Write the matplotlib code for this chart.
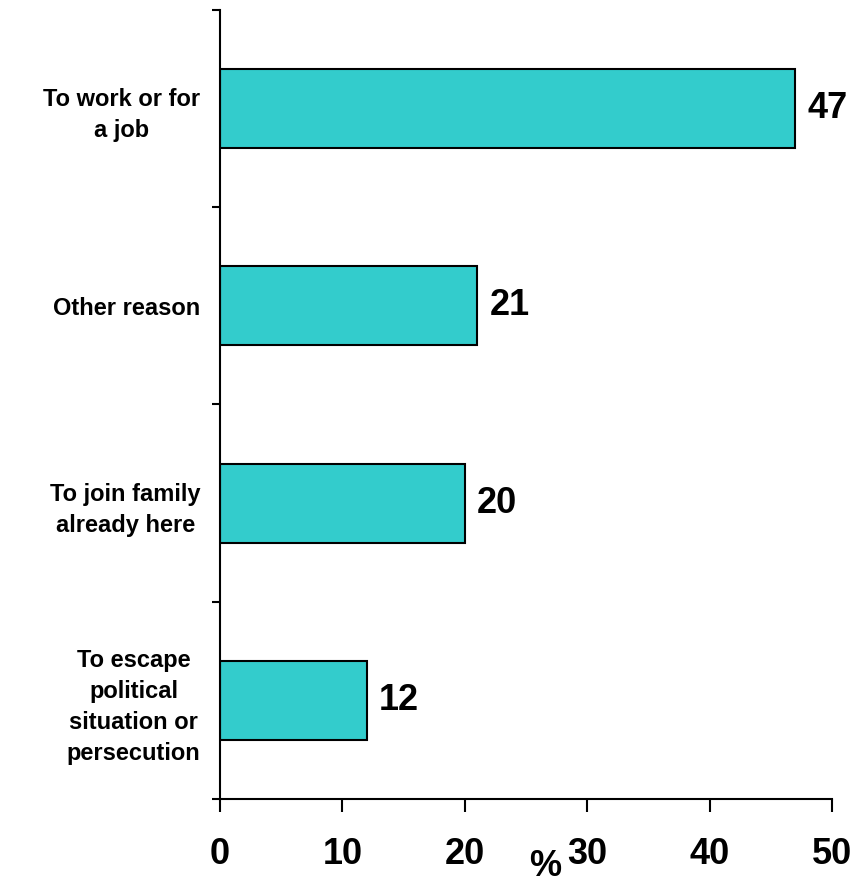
import matplotlib
matplotlib.use("Agg")
import matplotlib.pyplot as plt
import numpy as np

plt.rcParams['font.family'] = ['Liberation Sans', 'DejaVu Sans']

categories = [
    "To work or for\na job",
    "Other reason",
    "To join family\nalready here",
    "To escape\npolitical\nsituation or\npersecution",
]
values = [47, 21, 20, 12]
xticks = [0, 10, 20, 30, 40, 50]

fig = plt.figure(figsize=(8.56, 8.92), dpi=100)
ax = fig.add_axes([220 / 856, 1 - 799 / 892, 612 / 856, 789 / 892])

ypos = np.arange(len(categories))
ax.barh(ypos, values, height=0.4, color="#33CCCC", edgecolor="black", linewidth=1.5)

for y, v in zip(ypos, values):
    ax.text(v + 1.0, y, f"{v}", va="center", ha="left",
            fontsize=26, fontweight="bold")

ax.set_xlim(0, 50)
ax.set_ylim(3.5, -0.5)

ax.set_xticks(xticks)
ax.set_xticklabels([str(t) for t in xticks], fontsize=26, fontweight="bold")
ax.tick_params(axis="x", direction="out", length=9, width=1.5, pad=18)

ax.set_yticks(ypos)
ax.set_yticklabels(categories, fontsize=17, fontweight="bold",
                   multialignment="center", linespacing=1.45)
ax.set_yticks(np.arange(-0.5, len(categories), 1.0), minor=True)
ax.tick_params(axis="y", which="major", length=0, pad=14)
ax.tick_params(axis="y", which="minor", direction="out", length=6, width=1.5)

for s in ("top", "right"):
    ax.spines[s].set_visible(False)
for s in ("left", "bottom"):
    ax.spines[s].set_linewidth(1.5)

fig.text(545 / 856, 1 - 866 / 892, "%", ha="center", va="center",
         fontsize=26, fontweight="bold")

fig.savefig("out.png", dpi=100)
